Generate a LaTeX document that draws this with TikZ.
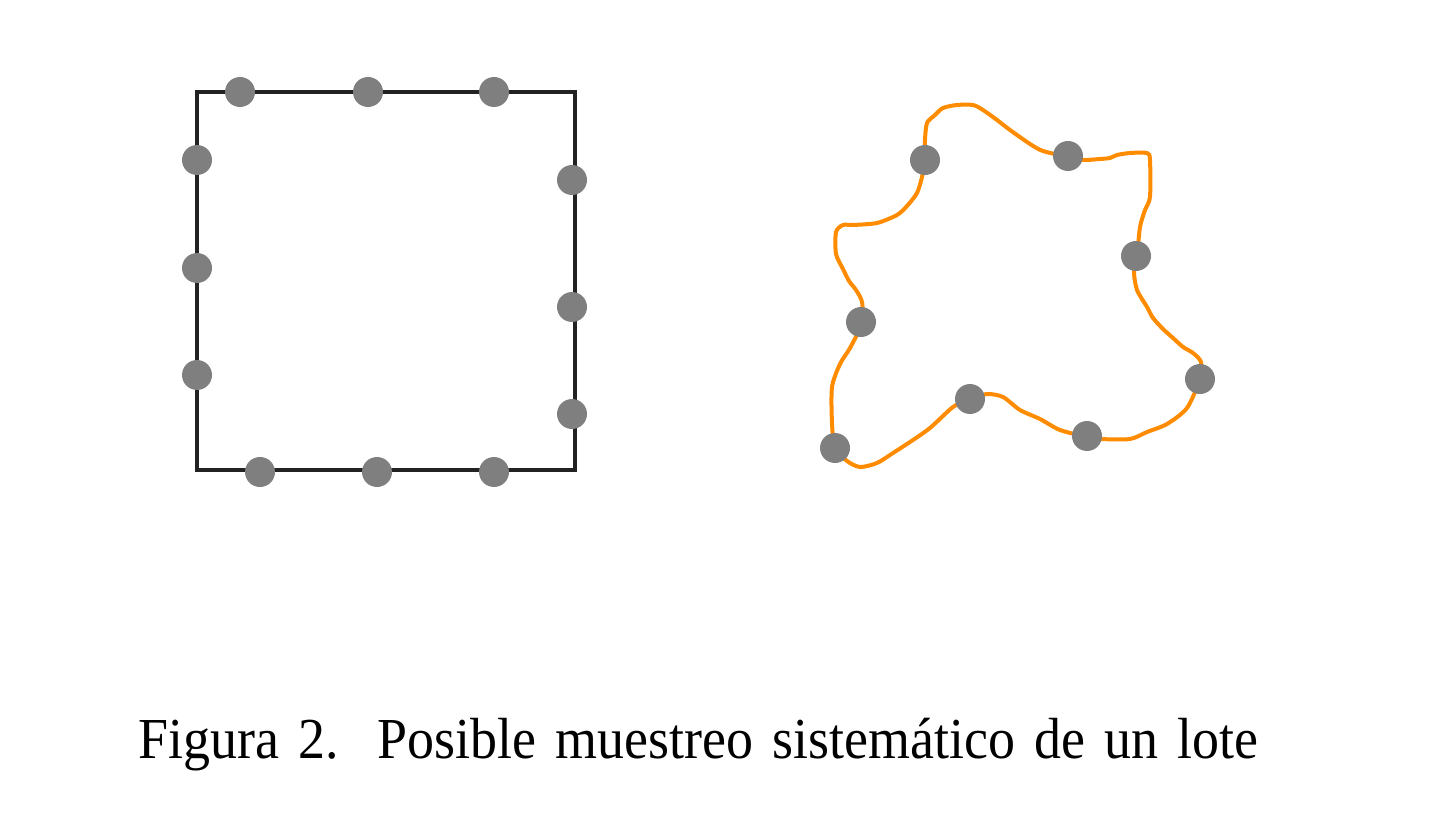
\documentclass[tikz,border=0pt]{standalone}
\usepackage{fontspec}
\setmainfont{Liberation Serif}
\definecolor{dotgray}{HTML}{7F7F7F}
\definecolor{sqline}{HTML}{222222}
\definecolor{blob}{HTML}{FF8C00}
\begin{document}
\begin{tikzpicture}[x=1pt,y=-1pt,
  dot/.style={circle,fill=dotgray,inner sep=0pt,minimum size=30pt},
  sqstyle/.style={draw=sqline,line width=4pt},
  blobstyle/.style={draw=blob,line width=4pt,line join=round}]
\useasboundingbox[fill=white] (0,0) rectangle (1441,837);
\draw[sqstyle] (197,92) rectangle (575,470);
\foreach \n/\x/\y in {t1/240/92,t2/368/92,t3/494/92,l1/197/160,l2/197/268,l3/197/375,r1/572/180,r2/572/307,r3/572/414,b1/260/472,b2/377/472,b3/494/472}
  \node[dot] (\n) at (\x,\y) {};
\draw[blobstyle] plot[smooth cycle, tension=0.45] coordinates {
 (925,160) (925,140) (927,123) (935,115) (943,108) (957,105) (973,105) (983,110) (997,120) (1010,130) (1030,144) (1043,151) (1068,157) (1083,160) (1100,159) (1110,158) (1117,155) (1130,153) (1147,153) (1150,160) (1150,197) (1145,210) (1140,227) (1137,256) (1134,272) (1137,290) (1147,307) (1153,318) (1163,329) (1173,338) (1183,347) (1193,353) (1201,362) (1200,379) (1187,408) (1167,424) (1147,432) (1130,439) (1100,439) (1087,437) (1060,430) (1040,419) (1020,410) (1003,397) (987,394) (970,399) (953,407) (930,428) (910,442) (893,453) (877,463) (860,467) (847,461) (835,448) (832,423) (832,387) (840,364) (850,348) (862,323) (862,302) (856,290) (849,281) (843,269) (836,254) (836,232) (843,225) (853,225) (877,223) (897,215) (907,206) (917,193) (922,177)
};
\foreach \n/\x/\y in {o1/925/160,o2/1068/156,o3/1136/256,o4/861/322,o5/1200/379,o6/970/399,o7/1087/436,o8/835/448}
  \node[dot] (\n) at (\x,\y) {};
\node[anchor=base west,inner sep=0pt,font=\fontsize{58}{60}\selectfont] (cap) at (138,758)
  {\scalebox{0.93}[1]{\spaceskip=20.5pt\relax Figura 2.\hspace{42pt}Posible muestreo sistemático de un lote}};
\end{tikzpicture}
\end{document}
